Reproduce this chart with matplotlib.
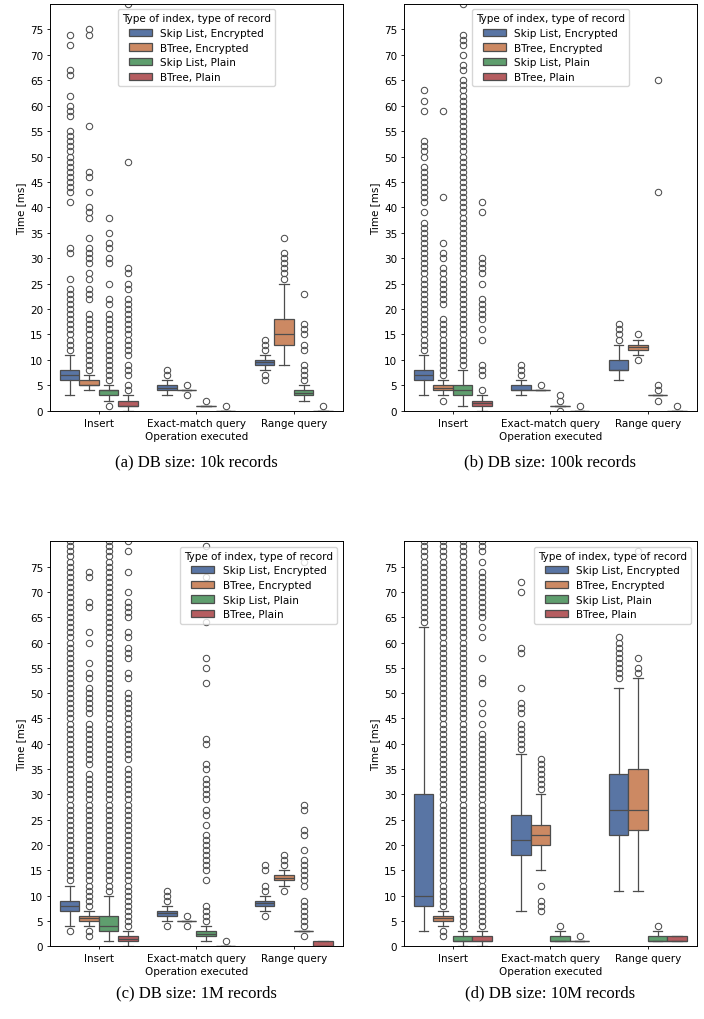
import colorsys
import matplotlib
matplotlib.use("Agg")
import matplotlib.pyplot as plt
from matplotlib.patches import Patch
from matplotlib.colors import to_rgb

# ---------------- data ----------------
categories = ["Insert", "Exact-match query", "Range query"]
hue_labels = ["Skip List, Encrypted", "BTree, Encrypted", "Skip List, Plain", "BTree, Plain"]
captions = ["(a) DB size: 10k records", "(b) DB size: 100k records",
            "(c) DB size: 1M records", "(d) DB size: 10M records"]
yticks = [0, 5, 10, 15, 20, 25, 30, 35, 40, 45, 50, 55, 60, 65, 70, 75]
base_colors = ["#4C72B0", "#DD8452", "#55A868", "#C44E52"]

# stats indexed [category][hue]
a_q1 = [[6, 5, 3, 1], [4, 4, 1, 0], [9, 13, 3, 0]]
a_med = [[7, 5, 4, 1], [4.5, 4, 1, 0], [9.5, 15, 3.5, 0]]
a_q3 = [[8, 6, 4, 2], [5, 4, 1, 0], [10, 18, 4, 0]]
a_lo = [[3, 4, 2, 0], [3, 4, 1, 0], [8, 9, 2, 0]]
a_hi = [[11, 7, 5, 3], [6, 4, 1, 0], [11, 25, 5, 0]]
a_fliers = [
    [[12, 13, 14, 15, 16, 17, 18, 19, 20, 21, 22, 23, 24, 26, 31, 32, 41, 43, 44, 45, 46, 47, 48,
      49, 50, 51, 52, 53, 54, 55, 58, 59, 60, 62, 66, 67, 72, 74],
     [8, 9, 10, 11, 12, 13, 14, 15, 16, 17, 18, 19, 22, 23, 24, 26, 27, 29, 30, 31, 32, 34, 38, 39,
      40, 43, 46, 47, 56, 74, 75],
     [1, 6, 7, 8, 9, 10, 11, 12, 13, 14, 15, 16, 17, 18, 19, 21, 22, 25, 29, 30, 32, 33, 35, 38],
     [4, 5, 7, 8, 9, 11, 12, 13, 14, 15, 16, 17, 18, 19, 20, 21, 22, 24, 25, 27, 28, 49, 80]],
    [[7, 8], [3, 5], [2], [1]],
    [[6, 7, 12, 13, 14], [26, 27, 28, 29, 30, 31, 34], [6, 7, 8, 9, 12, 13, 15, 16, 17, 23], [1]],
]

b_q1 = [[6, 4, 3, 1], [4, 4, 1, 0], [8, 12, 3, 0]]
b_med = [[7, 4.5, 4, 1.5], [4, 4, 1, 0], [8, 12.5, 3, 0]]
b_q3 = [[8, 5, 5, 2], [5, 4, 1, 0], [10, 13, 3, 0]]
b_lo = [[3, 3, 1, 0], [3, 4, 1, 0], [6, 11, 3, 0]]
b_hi = [[11, 6, 8, 3], [6, 4, 1, 0], [13, 14, 3, 0]]
b_fliers = [
    [[12, 13, 14, 15, 16, 17, 18, 19, 20, 21, 22, 23, 24, 25, 26, 27, 28, 29, 30, 31, 32, 33, 34,
      35, 36, 37, 39, 41, 42, 43, 44, 45, 46, 47, 48, 50, 51, 52, 53, 59, 61, 63],
     [2, 7, 8, 9, 10, 11, 12, 13, 14, 15, 16, 17, 18, 21, 22, 23, 24, 25, 26, 27, 28, 30, 31, 33,
      42, 59],
     [9, 10, 11, 12, 13, 14, 15, 16, 17, 18, 19, 20, 21, 22, 23, 24, 25, 26, 27, 28, 29, 30, 31, 32,
      33, 34, 35, 36, 37, 38, 39, 40, 41, 42, 43, 44, 45, 46, 47, 48, 49, 50, 51, 52, 53, 54, 55,
      56, 57, 58, 59, 60, 61, 62, 63, 64, 65, 67, 68, 70, 72, 73, 74, 80],
     [4, 7, 8, 9, 14, 16, 18, 19, 20, 21, 22, 25, 27, 28, 29, 30, 39, 41]],
    [[7, 8, 9], [5], [0, 2, 3], [1]],
    [[14, 15, 16, 17], [10, 15], [2, 4, 5, 43, 65], [1]],
]

c_q1 = [[7, 5, 3, 1], [6, 5, 2, 0], [8, 13, 3, 0]]
c_med = [[8, 5.5, 4, 1.5], [6.5, 5, 2.5, 0], [8.5, 13.5, 3, 0]]
c_q3 = [[9, 6, 6, 2], [7, 5, 3, 0], [9, 14, 3, 1]]
c_lo = [[4, 4, 1, 0], [5, 5, 1, 0], [7, 12, 3, 0]]
c_hi = [[12, 7, 10, 3], [8, 5, 4, 0], [10, 15, 3, 1]]
c_fliers = [
    [[3, 13, 14, 15, 16, 17, 18, 19, 20, 21, 22, 23, 24, 25, 26, 27, 28, 29, 30, 31, 32, 33, 34, 35,
      36, 37, 38, 39, 40, 41, 42, 43, 44, 45, 46, 47, 48, 49, 50, 51, 52, 53, 54, 55, 56, 57, 58,
      59, 60, 61, 62, 63, 64, 65, 66, 67, 68, 69, 70, 71, 72, 73, 74, 75, 76, 77, 78, 79, 80],
     [2, 3, 8, 9, 10, 11, 12, 13, 14, 15, 16, 17, 18, 19, 20, 21, 22, 23, 24, 25, 26, 27, 28, 29,
      30, 31, 32, 33, 34, 36, 37, 38, 39, 40, 41, 42, 43, 44, 46, 47, 48, 49, 50, 51, 53, 54, 56,
      60, 62, 67, 68, 73, 74],
     [11, 12, 13, 14, 15, 16, 17, 18, 19, 20, 21, 22, 23, 24, 25, 26, 27, 28, 29, 30, 31, 32, 33,
      34, 35, 36, 37, 38, 39, 40, 41, 42, 43, 44, 45, 46, 47, 48, 49, 50, 51, 52, 53, 54, 55, 56,
      57, 58, 59, 60, 61, 62, 63, 64, 65, 66, 67, 68, 69, 70, 71, 72, 73, 74, 75, 76, 77, 78, 79, 80],
     [4, 5, 6, 7, 8, 9, 10, 11, 12, 13, 14, 15, 16, 17, 18, 19, 20, 21, 22, 23, 24, 25, 26, 27, 28,
      29, 30, 31, 32, 33, 34, 35, 37, 38, 39, 40, 41, 42, 43, 44, 45, 46, 47, 48, 49, 50, 53, 54,
      57, 58, 59, 61, 62, 65, 66, 67, 68, 70, 74, 78, 80]],
    [[4, 9, 10, 11], [4, 6],
     [5, 6, 7, 8, 13, 15, 16, 17, 18, 19, 20, 21, 22, 24, 26, 27, 29, 30, 31, 32, 33, 35, 36, 40,
      41, 52, 55, 57, 64, 73, 79],
     [1]],
    [[6, 11, 12, 15, 16], [11, 16, 17, 18],
     [2, 4, 5, 6, 7, 8, 9, 12, 13, 14, 15, 16, 17, 19, 22, 23, 27, 28, 76], []],
]

d_q1 = [[8, 5, 1, 1], [18, 20, 1, 1], [22, 23, 1, 1]]
d_med = [[10, 5.5, 1, 1], [21, 22, 1, 1], [27, 27, 1, 1]]
d_q3 = [[30, 6, 2, 2], [26, 24, 2, 1], [34, 35, 2, 2]]
d_lo = [[3, 4, 0, 0], [7, 15, 1, 1], [11, 11, 1, 1]]
d_hi = [[63, 7, 3, 3], [38, 30, 3, 1], [51, 53, 3, 2]]
d_fliers = [
    [[64, 65, 66, 67, 68, 69, 70, 71, 72, 73, 74, 75, 76, 77, 78, 79, 80],
     [2, 3, 8, 9, 10, 11, 12, 13, 14, 15, 16, 17, 18, 19, 20, 21, 22, 23, 24, 25, 26, 27, 28, 29,
      30, 31, 32, 33, 34, 35, 36, 37, 38, 39, 40, 41, 42, 43, 44, 45, 46, 47, 48, 49, 50, 51, 52,
      53, 54, 55, 56, 57, 58, 59, 60, 61, 62, 63, 64, 65, 66, 67, 68, 69, 70, 71, 72, 73, 74, 75,
      76, 77, 78, 79, 80],
     [4, 5, 6, 7, 8, 9, 10, 11, 12, 13, 14, 15, 16, 17, 18, 19, 20, 21, 22, 23, 24, 25, 26, 27, 28,
      29, 30, 31, 32, 33, 34, 35, 36, 37, 38, 39, 40, 41, 42, 43, 44, 45, 46, 47, 48, 49, 50, 51,
      52, 53, 54, 55, 56, 57, 58, 59, 60, 61, 62, 63, 64, 65, 66, 67, 68, 69, 70, 71, 72, 73, 74,
      75, 76, 77, 78, 79, 80],
     [4, 5, 6, 7, 8, 9, 10, 11, 12, 13, 14, 15, 16, 17, 18, 19, 20, 21, 22, 23, 24, 25, 26, 27, 28,
      29, 30, 31, 32, 33, 34, 35, 36, 37, 38, 39, 40, 41, 42, 44, 46, 48, 52, 53, 57, 61, 63, 65,
      66, 67, 68, 69, 70, 71, 72, 73, 74, 76, 78, 79, 80]],
    [[39, 40, 41, 42, 43, 44, 46, 47, 48, 51, 58, 59, 70, 72],
     [7, 8, 9, 12, 31, 32, 33, 34, 35, 36, 37], [4], [2]],
    [[53, 54, 55, 56, 57, 58, 59, 60, 61], [54, 55, 57, 78], [4], []],
]

panels = [
    (a_q1, a_med, a_q3, a_lo, a_hi, a_fliers, "upper center"),
    (b_q1, b_med, b_q3, b_lo, b_hi, b_fliers, "upper center"),
    (c_q1, c_med, c_q3, c_lo, c_hi, c_fliers, "upper right"),
    (d_q1, d_med, d_q3, d_lo, d_hi, d_fliers, "upper right"),
]

# ---------------- style ----------------
def desat(c, prop=0.75):
    h, l, s = colorsys.rgb_to_hls(*to_rgb(c))
    return colorsys.hls_to_rgb(h, l, s * prop)

fills = [desat(c) for c in base_colors]
gray = (0.30, 0.30, 0.30)
lw = 0.9
FS = 7.5

W, H = 704, 1020
fig = plt.figure(figsize=(W / 100, H / 100), dpi=100)

ax_px = [  # left, top, right, bottom in pixels
    (50, 5, 342.7, 411.7),
    (404, 5, 696.5, 411.7),
    (50, 542.3, 342.7, 947.3),
    (404, 542.3, 696.5, 947.3),
]
cap_pos = [(196.4, 462), (550.2, 462), (196.4, 993), (550.2, 993)]

for pi, (q1, med, q3, lo, hi, fl, legloc) in enumerate(panels):
    l, t, r, b = ax_px[pi]
    ax = fig.add_axes([l / W, 1 - b / H, (r - l) / W, (b - t) / H])
    for ci in range(len(categories)):
        for hj in range(len(hue_labels)):
            pos = ci + (hj - 1.5) * 0.2
            st = dict(med=med[ci][hj], q1=q1[ci][hj], q3=q3[ci][hj],
                      whislo=lo[ci][hj], whishi=hi[ci][hj], fliers=fl[ci][hj])
            ax.bxp([st], positions=[pos], widths=0.2, capwidths=0.1,
                   patch_artist=True, manage_ticks=False,
                   boxprops=dict(facecolor=fills[hj], edgecolor=gray, linewidth=lw),
                   whiskerprops=dict(color=gray, linewidth=lw),
                   capprops=dict(color=gray, linewidth=lw),
                   medianprops=dict(color=gray, linewidth=lw),
                   flierprops=dict(marker="o", markerfacecolor="none",
                                   markeredgecolor=gray, markersize=4.6,
                                   markeredgewidth=0.75, linestyle="none"))
    ax.set_xlim(-0.5, 2.5)
    ax.set_ylim(0, 80)
    ax.set_yticks(yticks)
    ax.set_xticks(range(len(categories)))
    ax.set_xticklabels(categories)
    ax.tick_params(labelsize=FS, length=2.5, width=0.6, pad=2.4)
    for s in ax.spines.values():
        s.set_linewidth(0.7)
    ax.set_xlabel("Operation executed", fontsize=FS, labelpad=2.2)
    ax.set_ylabel("Time [ms]", fontsize=FS, labelpad=3)
    handles = [Patch(facecolor=fills[k], edgecolor=gray, linewidth=lw) for k in range(4)]
    ax.legend(handles, hue_labels, title="Type of index, type of record", loc=legloc,
              fontsize=FS, title_fontsize=FS, framealpha=0.8, borderpad=0.4,
              labelspacing=0.45, handlelength=2.2, handletextpad=0.8)
    x, y = cap_pos[pi]
    fig.text(x / W, 1 - y / H, captions[pi], ha="center", va="center",
             family="Liberation Serif", fontsize=12)

fig.savefig("out.png", dpi=100)
